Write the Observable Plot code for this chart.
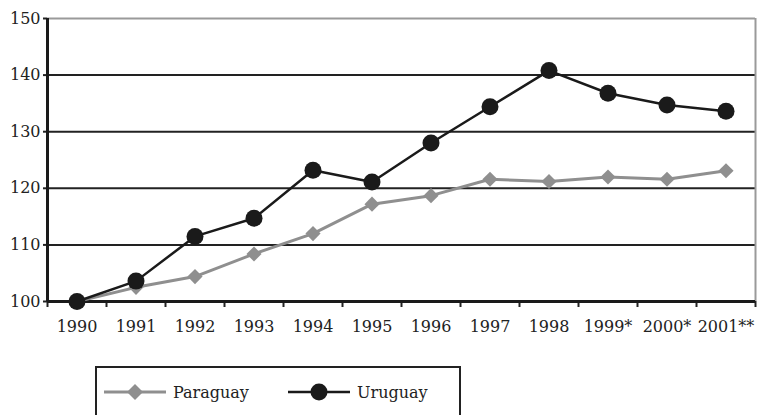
<!DOCTYPE html>
<html>
<head>
<meta charset="utf-8">
<script src="https://cdn.jsdelivr.net/npm/d3@7"></script>
<script src="https://cdn.jsdelivr.net/npm/@observablehq/plot@0.6"></script>
<style>
  html, body { margin: 0; padding: 0; background: #fff; }
  #wrap { position: relative; width: 764px; height: 415px; overflow: hidden; font-family: 'DejaVu Serif'; color: #222; }
  #wrap svg text { font-family: 'DejaVu Serif'; }
  #legend { position: absolute; left: 95px; top: 366px; width: 366px; height: 80px; border: 2px solid #222; box-sizing: border-box; }
  .item { position: absolute; top: 12px; display: flex; align-items: center; font-size: 16px; }
  .item svg { display: block; margin-right: 7px; }
</style>
</head>
<body>
<div id="wrap">
  <div id="chart"></div>
  <div id="legend"></div>
</div>
<script>
const years = ["1990","1991","1992","1993","1994","1995","1996","1997","1998","1999*","2000*","2001**"];
const paraguay = [100, 102.5, 104.4, 108.4, 112.0, 117.2, 118.7, 121.6, 121.2, 122.0, 121.6, 123.1];
const uruguay  = [100, 103.6, 111.5, 114.7, 123.2, 121.1, 128.0, 134.4, 140.8, 136.8, 134.7, 133.6];
const yTicks = [100, 110, 120, 130, 140, 150];
const seriesNames = ["Paraguay", "Uruguay"];
const seriesColors = ["#8f8f8f", "#1a1a1a"];

const data = [];
years.forEach((y, i) => {
  data.push({i, year: y, series: "Paraguay", value: paraguay[i]});
  data.push({i, year: y, series: "Uruguay", value: uruguay[i]});
});
const P = data.filter(d => d.series === "Paraguay");
const U = data.filter(d => d.series === "Uruguay");
const idx = d3.range(years.length);
const bounds = d3.range(years.length + 1).map(k => k - 0.5);

const chart = Plot.plot({
  width: 764,
  height: 345,
  marginLeft: 47,
  marginRight: 9,
  marginTop: 18,
  marginBottom: 44,
  style: {fontFamily: "'DejaVu Serif'", fontSize: "16px", color: "#222", background: "#fff"},
  x: {type: "linear", domain: [-0.5, years.length - 0.5]},
  y: {domain: [100, 150]},
  marks: [
    Plot.ruleY([150], {stroke: "#9a9a9a", strokeWidth: 2}),
    Plot.ruleY(yTicks.filter(v => v > 100 && v < 150), {stroke: "#222", strokeWidth: 2}),
    Plot.ruleX([years.length - 0.5], {y1: 100, y2: 150, stroke: "#9a9a9a", strokeWidth: 2}),
    Plot.axisY({ticks: yTicks, tickSize: 4, tickPadding: 3, strokeWidth: 2, label: null}),
    Plot.axisX({ticks: idx, tickFormat: i => years[i], tickSize: 0, tickPadding: 19, label: null}),
    Plot.axisX({ticks: bounds, tickFormat: () => "", tickSize: 6, strokeWidth: 2, label: null}),
    Plot.ruleX([-0.5], {y1: 100, y2: 150, stroke: "#1a1a1a", strokeWidth: 3}),
    Plot.ruleY([100], {stroke: "#1a1a1a", strokeWidth: 3}),
    Plot.line(P, {x: "i", y: "value", stroke: seriesColors[0], strokeWidth: 3}),
    Plot.dot(P, {x: "i", y: "value", symbol: "diamond2", r: 6.8, fill: seriesColors[0], stroke: "none"}),
    Plot.line(U, {x: "i", y: "value", stroke: seriesColors[1], strokeWidth: 2.5}),
    Plot.dot(U, {x: "i", y: "value", symbol: "circle", r: 8.5, fill: seriesColors[1], stroke: "none"})
  ]
});
document.getElementById("chart").appendChild(chart);

// legend
const legend = document.getElementById("legend");
const lefts = [7, 191];
seriesNames.forEach((name, k) => {
  const item = document.createElement("div");
  item.className = "item";
  item.style.left = lefts[k] + "px";
  const marker = k === 0
    ? `<polygon points="31,4 39,12 31,20 23,12" fill="${seriesColors[0]}"/>`
    : `<circle cx="31" cy="12" r="8.5" fill="${seriesColors[1]}"/>`;
  item.innerHTML = `<svg width="62" height="24"><line x1="0" x2="62" y1="12" y2="12" stroke="${seriesColors[k]}" stroke-width="${k === 0 ? 3 : 2.5}"/>${marker}</svg><span>${name}</span>`;
  legend.appendChild(item);
});
</script>
</body>
</html>
